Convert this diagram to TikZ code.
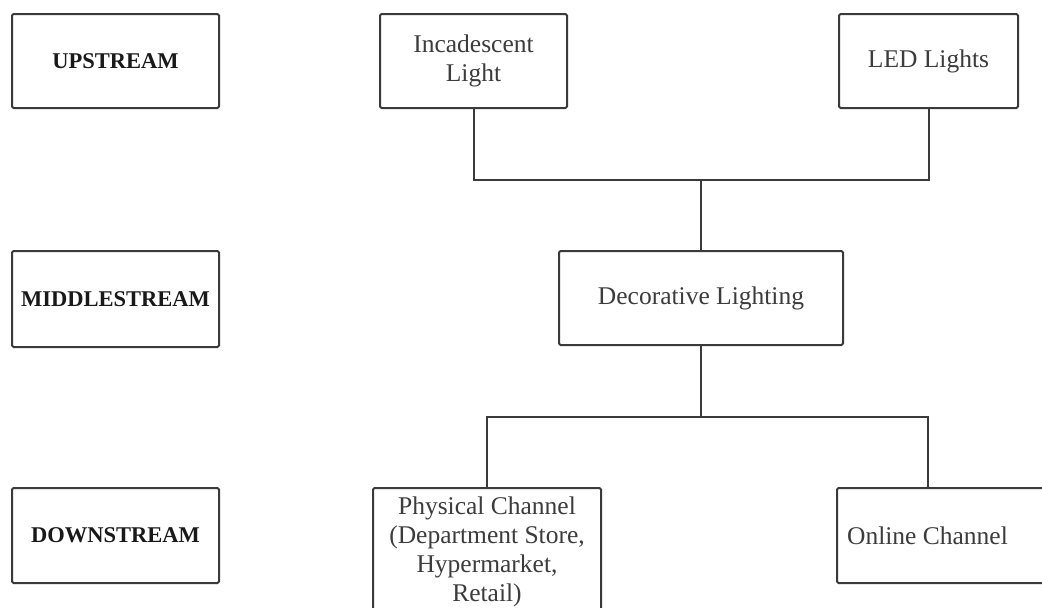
\documentclass[tikz,border=0pt]{standalone}
\usepackage{fontspec}
\setmainfont{Liberation Serif}
\definecolor{linegray}{HTML}{3A3A3A}
\definecolor{textgray}{HTML}{3C3C3C}
\begin{document}
\begin{tikzpicture}[x=1pt,y=-1pt,
  box/.style={draw=linegray, line width=2pt, rounded corners=1.5pt, inner sep=0pt, fill=white},
  stage/.style={box, minimum width=207pt, font=\fontsize{22.5}{26}\selectfont\bfseries, text=black!90},
  item/.style={box, align=center, font=\fontsize{25.5}{29}\selectfont, text=textgray},
  link/.style={draw=linegray, line width=2pt}]
\useasboundingbox (0,0) rectangle (1042,608);
\clip (0,0) rectangle (1042,608);

% stage labels on the left
\node[stage, minimum height=94pt] (up)   at (115.5,61)    {UPSTREAM};
\node[stage, minimum height=96pt] (mid)  at (115.5,299)   {MIDDLESTREAM};
\node[stage, minimum height=95pt] (down) at (115.5,535.5) {DOWNSTREAM};

% chain boxes
\node[item, minimum width=187pt, minimum height=94pt] (inc)  at (473.5,61) {Incadescent\\Light};
\node[item, minimum width=179pt, minimum height=94pt] (led)  at (928.5,61) {LED Lights};
\node[item, minimum width=284pt, minimum height=94pt] (deco) at (701,298)  {Decorative Lighting};
\node[item, minimum width=228pt, minimum height=128pt] (phys) at (487,552) {Physical Channel\\(Department Store,\\Hypermarket,\\Retail)};
\node[box, minimum width=223pt, minimum height=95pt] (online) at (948.5,535.5) {};
\node[font=\fontsize{25.5}{29}\selectfont, text=textgray, inner sep=0pt] (onlinetxt) at (927.5,536) {Online Channel};

% junctions
\coordinate (jtop) at (701,180);
\coordinate (jbot) at (701,417);

% connectors
\path[link] (inc.south) |- (jtop) -| (led.south);
\path[link] (jtop) -- (deco.north);
\path[link] (deco.south) -- (jbot);
\path[link] (phys.north) |- (jbot) -| (onlinetxt.center |- online.north);
\end{tikzpicture}
\end{document}
